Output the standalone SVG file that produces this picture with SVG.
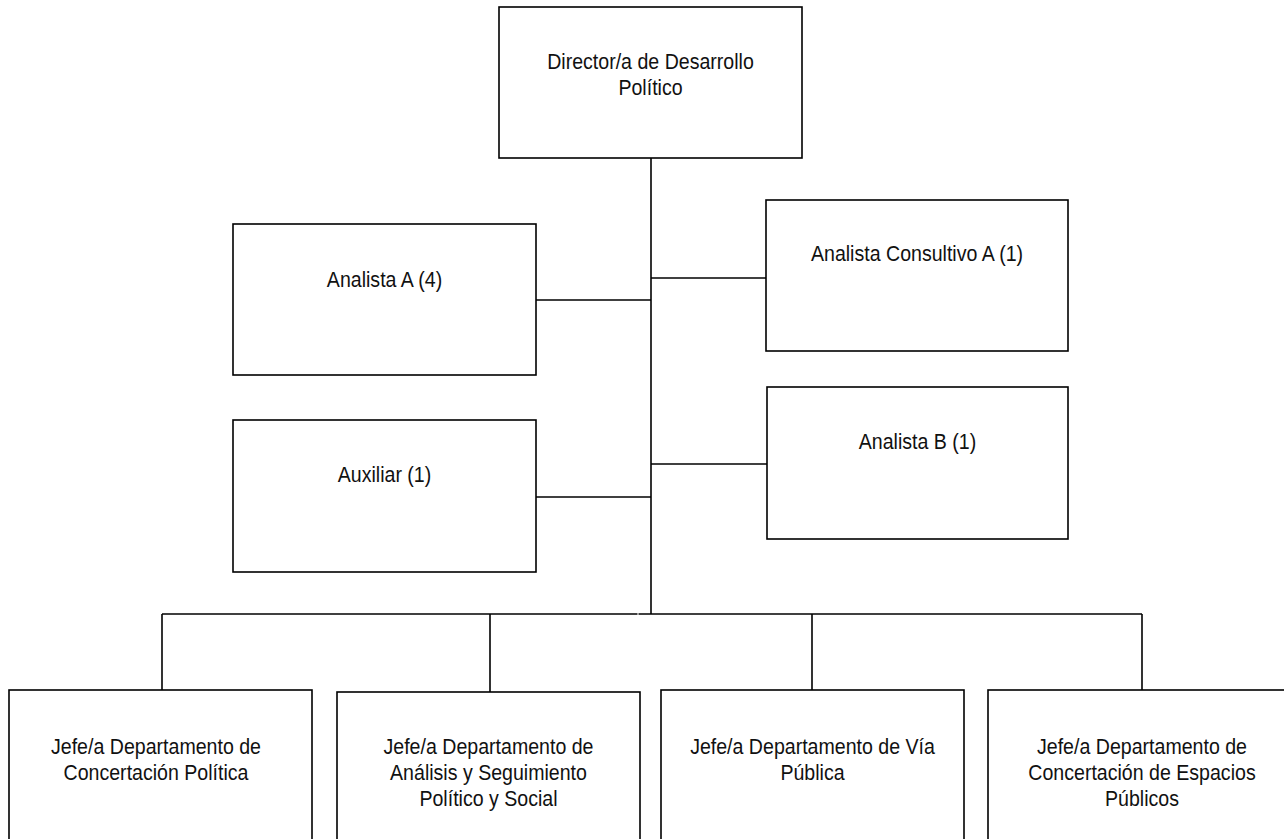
<svg xmlns="http://www.w3.org/2000/svg" width="1284" height="839" viewBox="0 0 1284 839">
<style>
.box{fill:#fff;stroke:#000;stroke-width:1.6}
.ln{stroke:#000;stroke-width:1.6;fill:none}
.t{font-family:"Liberation Sans",Arial,sans-serif;font-size:22px;fill:#111;text-anchor:middle}
</style>
<rect width="1284" height="839" fill="#fff"/>
<g id="connectors">
<line class="ln" x1="651" y1="158" x2="651" y2="614"/>
<line class="ln" x1="536" y1="300" x2="651" y2="300"/>
<line class="ln" x1="651" y1="278" x2="766" y2="278"/>
<line class="ln" x1="536" y1="497" x2="651" y2="497"/>
<line class="ln" x1="651" y1="464" x2="767" y2="464"/>
<line class="ln" x1="162" y1="614" x2="637.5" y2="614"/>
<line class="ln" x1="638.5" y1="614" x2="1142" y2="614"/>
<line class="ln" x1="162" y1="614" x2="162" y2="690"/>
<line class="ln" x1="490" y1="614" x2="490" y2="692"/>
<line class="ln" x1="812" y1="614" x2="812" y2="690"/>
<line class="ln" x1="1142" y1="614" x2="1142" y2="690"/>
</g>
<g id="director">
<rect class="box" x="499" y="7" width="303" height="151"/>
<text class="t" transform="translate(650.5 0) scale(0.89 1)"><tspan x="0" y="69">Director/a de Desarrollo</tspan><tspan x="0" y="95">Político</tspan></text>
</g>
<g id="analista-a">
<rect class="box" x="233" y="224" width="303" height="151"/>
<text class="t" transform="translate(384.5 0) scale(0.89 1)"><tspan x="0" y="287">Analista A (4)</tspan></text>
</g>
<g id="analista-consultivo-a">
<rect class="box" x="766" y="200" width="302" height="151"/>
<text class="t" transform="translate(917 0) scale(0.89 1)"><tspan x="0" y="261">Analista Consultivo A (1)</tspan></text>
</g>
<g id="auxiliar">
<rect class="box" x="233" y="420" width="303" height="152"/>
<text class="t" transform="translate(384.5 0) scale(0.89 1)"><tspan x="0" y="482">Auxiliar (1)</tspan></text>
</g>
<g id="analista-b">
<rect class="box" x="767" y="387" width="301" height="152"/>
<text class="t" transform="translate(917.5 0) scale(0.89 1)"><tspan x="0" y="449">Analista B (1)</tspan></text>
</g>
<g id="jefe-concertacion-politica">
<rect class="box" x="9" y="690" width="303" height="200"/>
<text class="t" transform="translate(156 0) scale(0.89 1)"><tspan x="0" y="754">Jefe/a Departamento de</tspan><tspan x="0" y="780">Concertación Política</tspan></text>
</g>
<g id="jefe-analisis-seguimiento">
<rect class="box" x="337" y="692" width="303" height="200"/>
<text class="t" transform="translate(488.5 0) scale(0.89 1)"><tspan x="0" y="754">Jefe/a Departamento de</tspan><tspan x="0" y="780">Análisis y Seguimiento</tspan><tspan x="0" y="806">Político y Social</tspan></text>
</g>
<g id="jefe-via-publica">
<rect class="box" x="661" y="690" width="303" height="200"/>
<text class="t" transform="translate(812.5 0) scale(0.89 1)"><tspan x="0" y="754">Jefe/a Departamento de Vía</tspan><tspan x="0" y="780">Pública</tspan></text>
</g>
<g id="jefe-espacios-publicos">
<rect class="box" x="988" y="690" width="310" height="200"/>
<text class="t" transform="translate(1142 0) scale(0.89 1)"><tspan x="0" y="754">Jefe/a Departamento de</tspan><tspan x="0" y="780">Concertación de Espacios</tspan><tspan x="0" y="806">Públicos</tspan></text>
</g>
</svg>
